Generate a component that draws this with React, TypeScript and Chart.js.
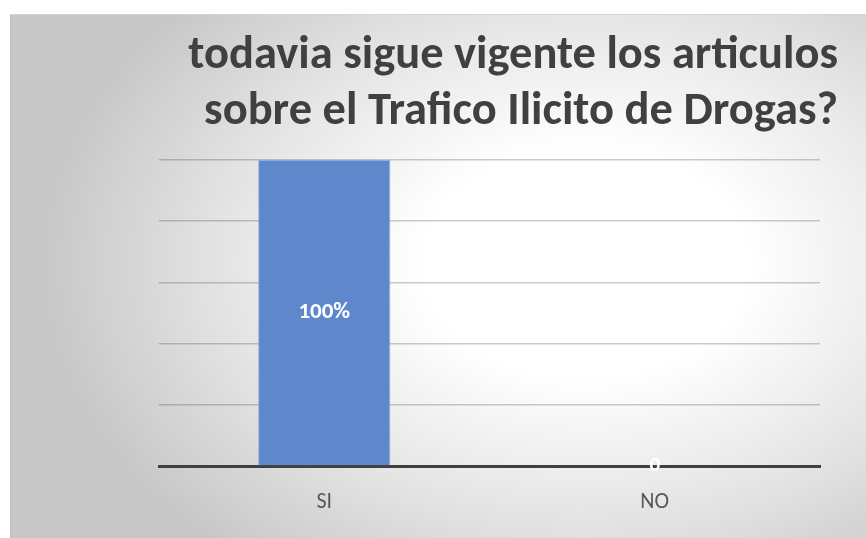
import React, { useEffect, useRef } from "react";
import { Chart, registerables } from "chart.js";

Chart.register(...registerables);

const titleLines = ["todavia sigue vigente los articulos", "sobre el Trafico Ilicito de Drogas?"];
const categories = ["SI", "NO"];
const values = [1, 0];
const valueLabels = ["100%", "0"];
const yMin = 0;
const yMax = 1;
const yStep = 0.2;

const FONT = "Carlito, Lato, 'Open Sans', sans-serif";

const barLabelPlugin = {
  id: "barLabels",
  afterDraw(chart: any) {
    const ctx = chart.ctx;
    const meta = chart.getDatasetMeta(0);
    ctx.save();
    ctx.textAlign = "center";
    ctx.textBaseline = "middle";
    ctx.fillStyle = "#ffffff";
    meta.data.forEach((el: any, i: number) => {
      const v = values[i];
      const cy = (el.y + el.base) / 2;
      ctx.font = v > 0 ? `bold 23px ${FONT}` : `bold 21px ${FONT}`;
      ctx.fillText(valueLabels[i], el.x, cy);
    });
    ctx.restore();
  },
};

export default function App() {
  const ref = useRef<HTMLCanvasElement | null>(null);
  useEffect(() => {
    if (!ref.current) return;
    const chart = new Chart(ref.current, {
      type: "bar",
      data: {
        labels: categories,
        datasets: [
          {
            data: values,
            backgroundColor: "#5f87cb",
            borderColor: "#8eaade",
            borderWidth: 1,
            categoryPercentage: 1,
            barPercentage: 0.4,
          },
        ],
      },
      options: {
        responsive: false,
        animation: false,
        layout: { padding: { left: 0, right: 28, top: 0, bottom: 0 } },
        plugins: {
          legend: { display: false },
          tooltip: { enabled: false },
          title: {
            display: true,
            text: titleLines,
            align: "end",
            color: "#404040",
            font: { family: FONT, size: 46.5, weight: "bold", lineHeight: "56px" as any },
            padding: { top: 28, bottom: 20 },
          },
        },
        scales: {
          x: {
            z: 1,
            grid: { display: false, drawTicks: false },
            border: { display: true, color: "#404040", width: 3 },
            ticks: { color: "#595959", font: { family: FONT, size: 22 }, padding: 23 },
            afterFit: (s: any) => {
              s.height = 72;
            },
          },
          y: {
            z: 1,
            min: yMin,
            max: yMax,
            ticks: { display: false, stepSize: yStep },
            grid: { color: "rgba(0,0,0,0.2)", lineWidth: 1.5, drawTicks: false },
            border: { display: false },
            afterFit: (s: any) => {
              s.width = 159;
            },
          },
          y2: {
            position: "right",
            display: true,
            grid: { display: false, drawTicks: false },
            ticks: { display: false },
            border: { display: false },
            afterFit: (s: any) => {
              s.width = 18;
            },
          },
        },
      },
      plugins: [barLabelPlugin],
    });
    return () => chart.destroy();
  }, []);

  return (
    <div style={{ position: "fixed", left: 0, top: 0, width: 866, height: 538, overflow: "hidden", background: "#ffffff" }}>
      <div
        style={{
          position: "absolute",
          left: 10,
          top: 14,
          width: 870,
          height: 540,
          borderTop: "1px solid #d4d4d4",
          borderLeft: "1px solid #c0c0c0",
          background: "radial-gradient(ellipse 62% 70% at 66% 46%, #ffffff 0%, #ffffff 30%, #e6e6e6 65%, #c8c8c8 100%)",
        }}
      />
      <canvas ref={ref} width={866} height={538} style={{ position: "absolute", left: 0, top: 0, width: 866, height: 538 }} />
    </div>
  );
}
